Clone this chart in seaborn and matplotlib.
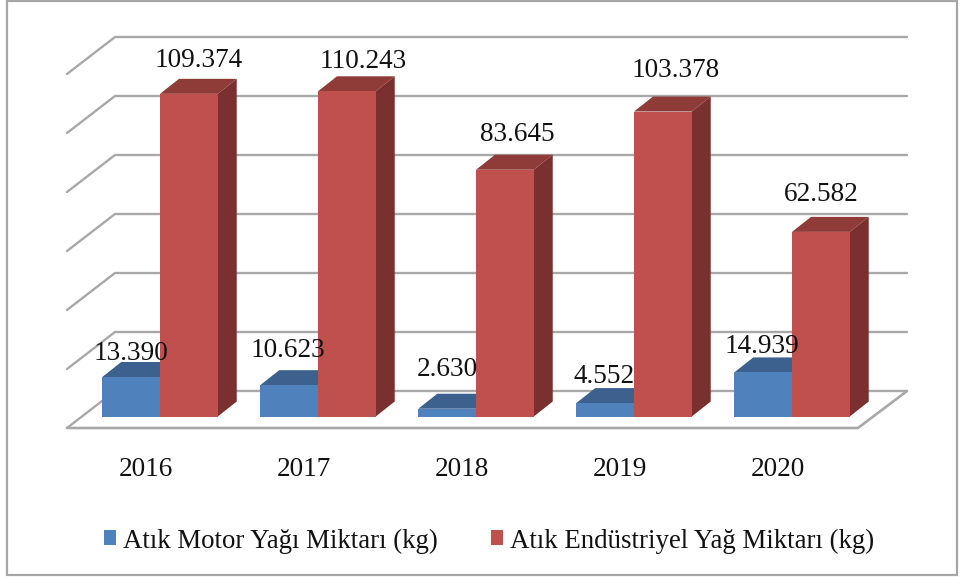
import matplotlib
matplotlib.use('Agg')
import matplotlib.pyplot as plt
import pandas as pd
import seaborn as sns
from matplotlib.patches import Polygon, Rectangle

years = ['2016', '2017', '2018', '2019', '2020']
motorOil = [13390, 10623, 2630, 4552, 14939]
industrialOil = [109374, 110243, 83645, 103378, 62582]
motorName = 'Atık Motor Yağı Miktarı (kg)'
industrialName = 'Atık Endüstriyel Yağ Miktarı (kg)'
motorLabels = ['13.390', '10.623', '2.630', '4.552', '14.939']
industrialLabels = ['109.374', '110.243', '83.645', '103.378', '62.582']

# label offsets from the top centre of each bar, in pixels
motorOffsets = [(0, 23), (-1, 35), (0, 39), (-1, 27), (-1, 26)]
industrialOffsets = [(10, 33), (16, 30), (12, 35), (13, 41), (0, 37)]

W, H = 960, 577
pxPerCat = 158
pxPerStep = 59
step = 20000
x0 = 160
y0 = 416.5


def xFromPx(px):
    return (px - x0) / pxPerCat


def yFromPx(py):
    return (y0 - py) * step / pxPerStep


sns.set_theme(style='white')
plt.rcParams['font.family'] = ['Liberation Serif', 'DejaVu Serif']

df = pd.DataFrame({
    'year': years * 2,
    'value': motorOil + industrialOil,
    'series': [motorName] * 5 + [industrialName] * 5,
})

fig = plt.figure(figsize=(W / 100, H / 100), dpi=100)
ax = fig.add_axes([0, 0, 1, 1])
sns.barplot(data=df, x='year', y='value', hue='series',
            palette=['#4F81BD', '#C0504D'], width=0.731, gap=0,
            saturation=1, errorbar=None, ax=ax, zorder=3, linewidth=0)
ax.set_xlim(xFromPx(0), xFromPx(W))
ax.set_ylim(yFromPx(H), yFromPx(0))
ax.set_xlabel('')
ax.set_ylabel('')
ax.set_yticks([])
ax.tick_params(axis='x', length=0, labelbottom=False)
for s in ax.spines.values():
    s.set_visible(False)

# outer frame
ax.add_patch(Rectangle((xFromPx(7), yFromPx(575)), (W - 10) / pxPerCat, yFromPx(1) - yFromPx(575),
                       fill=False, ec='#a6a6a6', lw=1.6, zorder=1))

# grid walls
gridColor = '#a8a8a8'
for k in range(7):
    backY = 391 - k * pxPerStep
    frontY = 428 - k * pxPerStep
    ax.plot([xFromPx(67), xFromPx(115), xFromPx(907)],
            [yFromPx(frontY), yFromPx(backY), yFromPx(backY)],
            color=gridColor, lw=1.7, zorder=1, solid_joinstyle='miter')
ax.plot([xFromPx(67), xFromPx(858), xFromPx(907)],
        [yFromPx(428), yFromPx(428), yFromPx(391)],
        color=gridColor, lw=1.9, zorder=1, solid_joinstyle='miter')

# depth faces of the bars
depthX = 19 / pxPerCat
depthY = 15 * step / pxPerStep
topColors = ['#3D618F', '#8F3C39']
sideColors = ['#355A85', '#7A302E']
for container, topColor, sideColor in zip(ax.containers, topColors, sideColors):
    for bar in container:
        left = bar.get_x()
        right = left + bar.get_width()
        top = bar.get_height()
        ax.add_patch(Polygon([(left, top), (right, top), (right + depthX, top + depthY), (left + depthX, top + depthY)],
                             fc=topColor, ec='none', zorder=2))
        ax.add_patch(Polygon([(right, 0), (right + depthX, depthY), (right + depthX, top + depthY), (right, top)],
                             fc=sideColor, ec='none', zorder=2))

# value labels
allLabels = [motorLabels, industrialLabels]
allOffsets = [motorOffsets, industrialOffsets]
for container, labels, offsets in zip(ax.containers, allLabels, allOffsets):
    for bar, label, off in zip(container, labels, offsets):
        ax.annotate(label, (bar.get_x() + bar.get_width() / 2, bar.get_height()),
                    xytext=off, textcoords='offset pixels', ha='center', va='center',
                    fontsize=19.6, color='#111111', zorder=5)

# category labels
for i, year in enumerate(years):
    ax.text(i - 0.09, yFromPx(469), year, ha='center', va='center', fontsize=19.6, color='#111111')

handles, labels = ax.get_legend_handles_labels()
ax.legend(handles, labels, loc='center', bbox_to_anchor=(xFromPx(489), yFromPx(541)),
          bbox_transform=ax.transData, ncols=2, frameon=False, fontsize=19.4,
          handlelength=0.45, handleheight=0.48, handletextpad=0.26, columnspacing=1.96,
          labelcolor='#111111')

fig.savefig('out.png', dpi=100)
